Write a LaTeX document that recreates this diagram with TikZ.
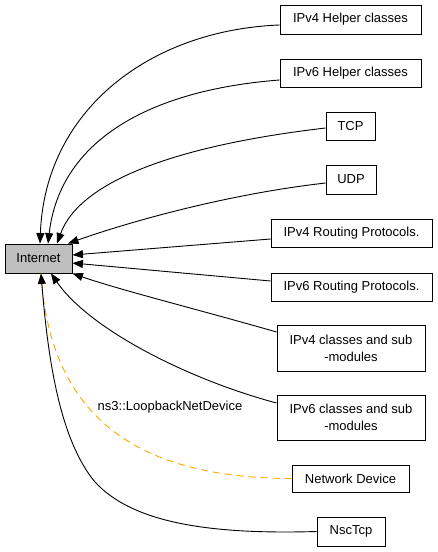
\documentclass[tikz,border=0pt]{standalone}
\usepackage{fontspec}
\setmainfont{Liberation Sans}
\usetikzlibrary{arrows.meta}
\definecolor{linkorange}{RGB}{255,165,0}

\begin{document}
\begin{tikzpicture}[x=1pt, y=-1pt,
    group/.style = {draw, line width=0.9pt, inner sep=0pt, align=center,
                    font=\fontsize{13}{17}\selectfont},
    edge/.style = {line width=0.9pt, -{Triangle[length=10.5pt, width=8pt]}},
    link/.style = {line width=0.9pt, dash pattern=on 7pt off 5pt, color=linkorange}]
    \useasboundingbox (0,0) rectangle (437,552);
    \node[group, fill=black!25, minimum width=67pt, minimum height=29pt] (internet) at (38.5,258.5) {Internet};
    \node[group, minimum width=141pt, minimum height=29pt] (v4help) at (350.5,19.5) {IPv4 Helper classes};
    \node[group, minimum width=141pt, minimum height=28pt] (v6help) at (350.5,73) {IPv6 Helper classes};
    \node[group, minimum width=49pt, minimum height=28pt] (tcp) at (350.5,126) {TCP};
    \node[group, minimum width=50pt, minimum height=29pt] (udp) at (351,179.5) {UDP};
    \node[group, minimum width=161pt, minimum height=28pt] (v4route) at (351.5,233) {IPv4 Routing Protocols.};
    \node[group, minimum width=161pt, minimum height=28pt] (v6route) at (351.5,287) {IPv6 Routing Protocols.};
    \node[group, minimum width=148pt, minimum height=46pt] (v4cls) at (351,348) {IPv4 classes and sub\\-modules};
    \node[group, minimum width=148pt, minimum height=45pt] (v6cls) at (351,417.5) {IPv6 classes and sub\\-modules};
    \node[group, minimum width=117pt, minimum height=27pt] (netdev) at (350.5,478.5) {Network Device};
    \node[group, minimum width=68pt, minimum height=29pt] (nsctcp) at (351,531.5) {NscTcp};
    \node[font=\fontsize{13}{17}\selectfont, inner sep=0pt] (loopback) at (170,407) {ns3::LoopbackNetDevice};
    %\draw [dashed] (internet) -- (netdev);
    \draw[link] (netdev.west) .. controls (140,478) and (50,420) .. ([xshift=2.5pt]internet.south);
    \draw[edge] ([yshift=-5.5pt]v4help.west) .. controls (150,30) and (45,110) .. ([xshift=1.5pt]internet.north);
    \draw[edge] ([yshift=-7pt]v6help.west) .. controls (150,90) and (60,140) .. ([xshift=9.5pt]internet.north);
    \draw[edge] ([yshift=-2pt]tcp.west) .. controls (180,145) and (80,180) .. ([xshift=18.5pt]internet.north);
    \draw[edge] ([yshift=-3.5pt]udp.west) .. controls (220,195) and (120,225) .. ([xshift=29.5pt]internet.north);
    \draw[edge] ([yshift=-6pt]v4route.west) -- ([yshift=3.5pt]internet.east);
    \draw[edge] ([yshift=6pt]v6route.west) -- ([yshift=-4.5pt]internet.east);
    \draw[edge] ([yshift=16pt]v4cls.west) .. controls (200,310) and (120,290) .. (internet.south east);
    \draw[edge] ([yshift=14.5pt]v6cls.west) .. controls (190,380) and (90,330) .. ([xshift=12.5pt]internet.south);
    \draw[edge] (nsctcp.west) .. controls (200,535) and (130,520) .. (95,482)
        .. controls (60,440) and (48,360) .. ([xshift=2.5pt]internet.south);
\end{tikzpicture}
\end{document}
